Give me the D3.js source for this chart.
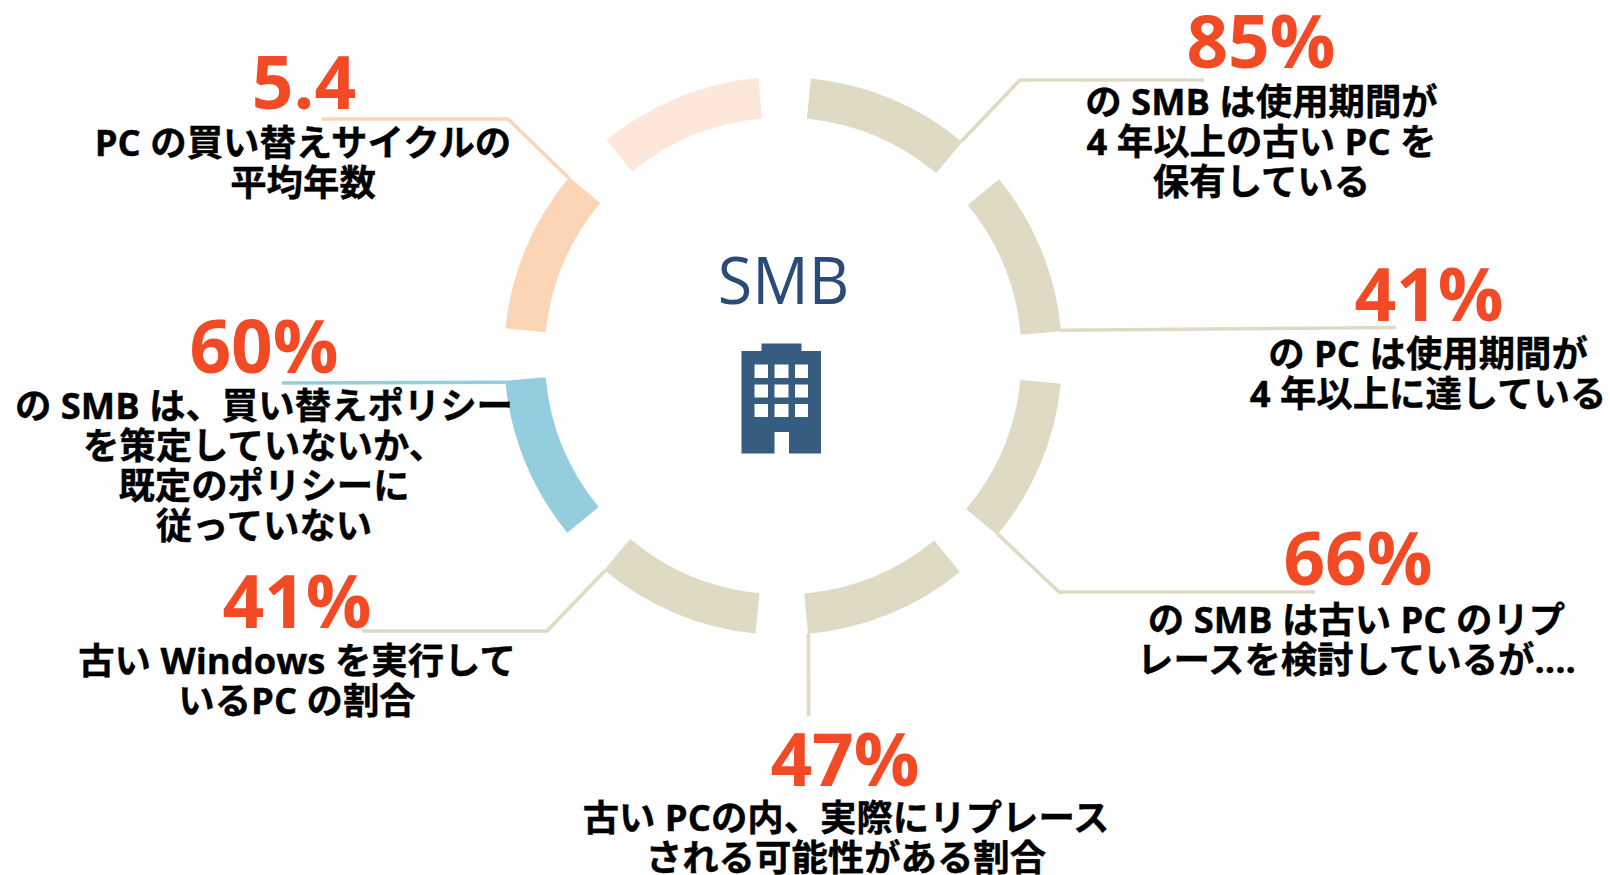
<!DOCTYPE html>
<html lang="ja">
<head>
<meta charset="utf-8">
<script src="https://cdn.jsdelivr.net/npm/d3@7"></script>
<style>
  html, body { margin: 0; background: #fff; }
  svg { display: block; }
  .stat { font-family: "Open Sans", sans-serif; font-weight: 700; fill: #f34a26; }
  .note { font-family: "Open Sans", "Noto Sans CJK JP", sans-serif; font-weight: 700; fill: #000; stroke: #000; stroke-width: 0.4; }
  .center { font-family: "Open Sans", sans-serif; font-weight: 400; fill: #2a4a78; }
</style>
</head>
<body>
<div id="chart"></div>
<script>
// Data
const stats = ["85%", "41%", "66%", "47%", "41%", "60%", "5.4"];
const notes = [
  ["の SMB は使用期間が", "4 年以上の古い PC を", "保有している"],
  ["の PC は使用期間が", "4 年以上に達している"],
  ["の SMB は古い PC のリプ", "レースを検討しているが...."],
  ["古い PCの内、実際にリプレース", "される可能性がある割合"],
  ["古い Windows を実行して", "いるPC の割合"],
  ["の SMB は、買い替えポリシー", "を策定していないか、", "既定のポリシーに", "従っていない"],
  ["PC の買い替えサイクルの", "平均年数"]
];
const segments = ["85", "41", "66", "47", "41w", "60", "5.4", "extra"];
const segmentColors = ["#dedac4", "#dedac4", "#dedac4", "#dedac4", "#dedac4", "#94cddd", "#fcd5b6", "#fde6da"];
const centerLabel = "SMB";

// Layout
const [width, height] = [1610, 875];
const [cx, cy] = [783.2, 356];
const [innerR, outerR] = [238.5, 279];
const gap = 5.4 * Math.PI / 180;
const ringTurn = 0.3 * Math.PI / 180;
const lineHeight = 40.2;

// x, y of stat baseline, y of first note baseline, x center of notes, elbow points after the ring
const callouts = [
  { x: 1261, y: 68, noteY: 114.7, noteX: 1261.5, slice: 0, angle: 39.7, line: [[1020, 80], [1204, 80]] },
  { x: 1429, y: 321, noteY: 366.7, noteX: 1428, slice: 1, angle: 84.7, line: [[1396, 327.5]] },
  { x: 1358, y: 585, noteY: 633, noteX: 1356.5, slice: 2, angle: 129.7, line: [[1059, 592], [1315, 592]] },
  { x: 845, y: 786, noteY: 831, noteX: 846, slice: 3, angle: 174.8, line: [[808.6, 716]] },
  { x: 297, y: 628, noteY: 673.5, noteX: 297, slice: 4, angle: 219.7, line: [[547, 631], [362, 631]] },
  { x: 264, y: 373, noteY: 418.7, noteX: 264, slice: 5, angle: 264.6, line: [[282, 383]] },
  { x: 304, y: 109, noteY: 155.7, noteX: 303, slice: 6, angle: 309.7, line: [[508, 119], [322, 119]] }
];

const svg = d3.select("#chart")
  .append("svg")
  .attr("width", width)
  .attr("height", height);

// Ring
const pie = d3.pie()
  .value(1)
  .sort(null)
  .startAngle(ringTurn)
  .endAngle(2 * Math.PI + ringTurn);
const arc = d3.arc()
  .innerRadius(innerR)
  .outerRadius(outerR)
  .startAngle(d => d.startAngle + gap)
  .endAngle(d => d.endAngle - gap);

svg.append("g")
  .attr("transform", "translate(" + cx + "," + cy + ")")
  .selectAll("path")
  .data(pie(segments))
  .enter()
  .append("path")
  .attr("d", arc)
  .attr("fill", (d, i) => segmentColors[i]);

// Leader lines
const lineGen = d3.line();
const polar = (deg) => {
  const a = deg * Math.PI / 180;
  return [cx + outerR * Math.sin(a), cy - outerR * Math.cos(a)];
};

svg.append("g")
  .selectAll("path")
  .data(callouts)
  .enter()
  .append("path")
  .attr("d", d => lineGen([polar(d.angle)].concat(d.line)))
  .attr("fill", "none")
  .attr("stroke-width", 3.6)
  .attr("stroke", d => segmentColors[d.slice]);

// Stats and notes
const statGroup = svg.append("g");
callouts.forEach((c, i) => {
  statGroup.append("text")
    .attr("class", "stat")
    .attr("text-anchor", "middle")
    .attr("font-size", 73)
    .attr("x", c.x)
    .attr("y", c.y)
    .text(stats[i]);

  notes[i].forEach((line, j) => {
    statGroup.append("text")
      .attr("class", "note")
      .attr("text-anchor", "middle")
      .attr("font-size", 36.4)
      .attr("x", c.noteX)
      .attr("y", c.noteY + j * lineHeight)
      .text(line);
  });
});

// Center
svg.append("text")
  .attr("class", "center")
  .attr("text-anchor", "middle")
  .attr("font-size", 65)
  .attr("transform", "translate(783.5,304) scale(0.965,1)")
  .text(centerLabel);

// Building icon
const icon = svg.append("g").attr("transform", "translate(741.5,343.5)");
icon.append("path")
  .attr("fill", "#365d80")
  .attr("fill-rule", "evenodd")
  .attr("d", "M20 0H60V7.5H79.5V110H47.5V88.5H33V110H0V7.5H20Z"
    + "M13 21V34.5H26.5V21Z M33 21V34.5H47V21Z M53.5 21V34.5H66.5V21Z"
    + "M13 41V54H26.5V41Z M33 41V54H47V41Z M53.5 41V54H66.5V41Z"
    + "M13 60.5V73.5H26.5V60.5Z M33 60.5V73.5H47V60.5Z M53.5 60.5V73.5H66.5V60.5Z");
</script>
</body>
</html>
